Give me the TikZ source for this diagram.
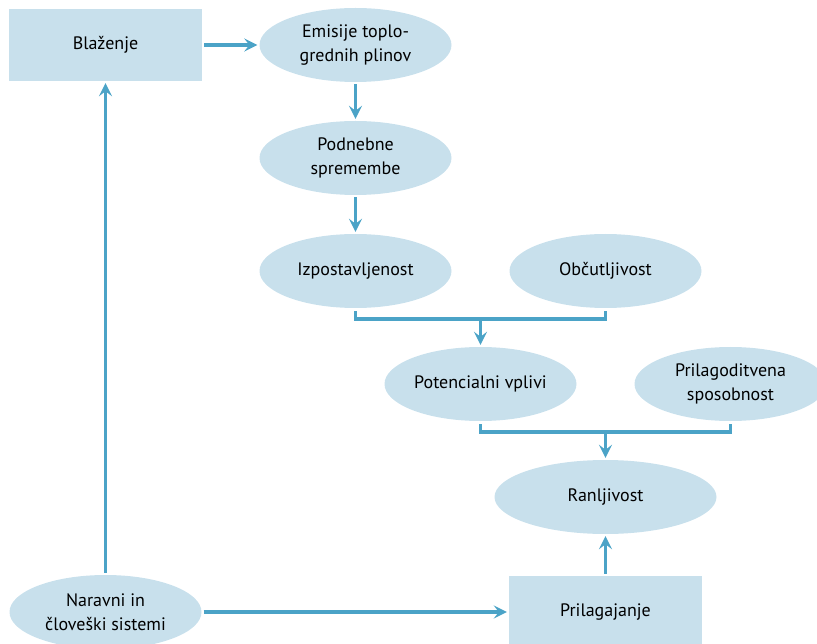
\documentclass[tikz,border=0pt]{standalone}
\usepackage{fontspec}
\setmainfont{PT Sans}
\usetikzlibrary{positioning, shapes.geometric, arrows.meta}
\definecolor{boxfill}{RGB}{200,224,236}
\definecolor{arrowblue}{RGB}{75,163,199}
\tikzset{
node distance=113pt and 125pt, % vertical and horizontal step of the grid
on grid,
every node/.style={font=\fontsize{18}{24}\selectfont, align=center, inner sep=0pt}, % text of all nodes
oval/.style={ellipse, fill=boxfill, minimum width=192pt, minimum height=74pt}, % the light blue ellipses
box/.style={rectangle, fill=boxfill, minimum width=193pt, minimum height=72pt}, % the two rectangles
link/.style={draw=arrowblue, line width=3.5pt}, % lines without a tip
arr/.style={link, -{Stealth[length=13pt,width=13pt,inset=5pt]}, shorten >=2pt, shorten <=2pt}, % directed edges
}

\begin{document}
\begin{tikzpicture}
    \useasboundingbox (0,0) rectangle (817pt,-644pt);
    \clip (0,0) rectangle (817pt,-644pt);

    \node[box] (blaz) at (105.5pt,-45pt) {Blaženje};
    \node[oval, right=250pt of blaz] (emis) {Emisije toplo-\\grednih plinov};
    \node[oval, below=of emis] (podn) {Podnebne\\spremembe};
    \node[oval, below=of podn] (izpo) {Izpostavljenost};
    \node[oval, right=250pt of izpo] (obcu) {Občutljivost};
    \node[oval, below right=of izpo] (poten) {Potencialni vplivi};
    \node[oval, right=250pt of poten] (prsp) {Prilagoditvena\\sposobnost};
    \node[oval, minimum width=222pt, below right=of poten] (ranl) {Ranljivost};
    \node[box, below=115pt of ranl] (prilag) {Prilagajanje};
    \node[oval, left=500pt of prilag] (narav) {Naravni in\\človeški sistemi};

    \coordinate (j1) at ([yshift=-11pt]izpo.south -| poten.north);
    \coordinate (j2) at ([yshift=-11pt]poten.south -| ranl.north);

  \draw[arr] (blaz) -- (emis);
  \draw[arr] (emis) -- (podn);
  \draw[arr] (podn) -- (izpo);

  \draw[link] ([yshift=-3pt]izpo.south) |- (j1) -| ([yshift=-3pt]obcu.south);
  \draw[arr] (j1) -- (poten);
  \draw[link] ([yshift=-3pt]poten.south) |- (j2) -| ([yshift=-3pt]prsp.south);
  \draw[arr] (j2) -- (ranl);

  \draw[arr] (prilag) -- (ranl);
  \draw[arr] (narav) -- (prilag);
  \draw[arr] (narav) -- (blaz);
\end{tikzpicture}
\end{document}
